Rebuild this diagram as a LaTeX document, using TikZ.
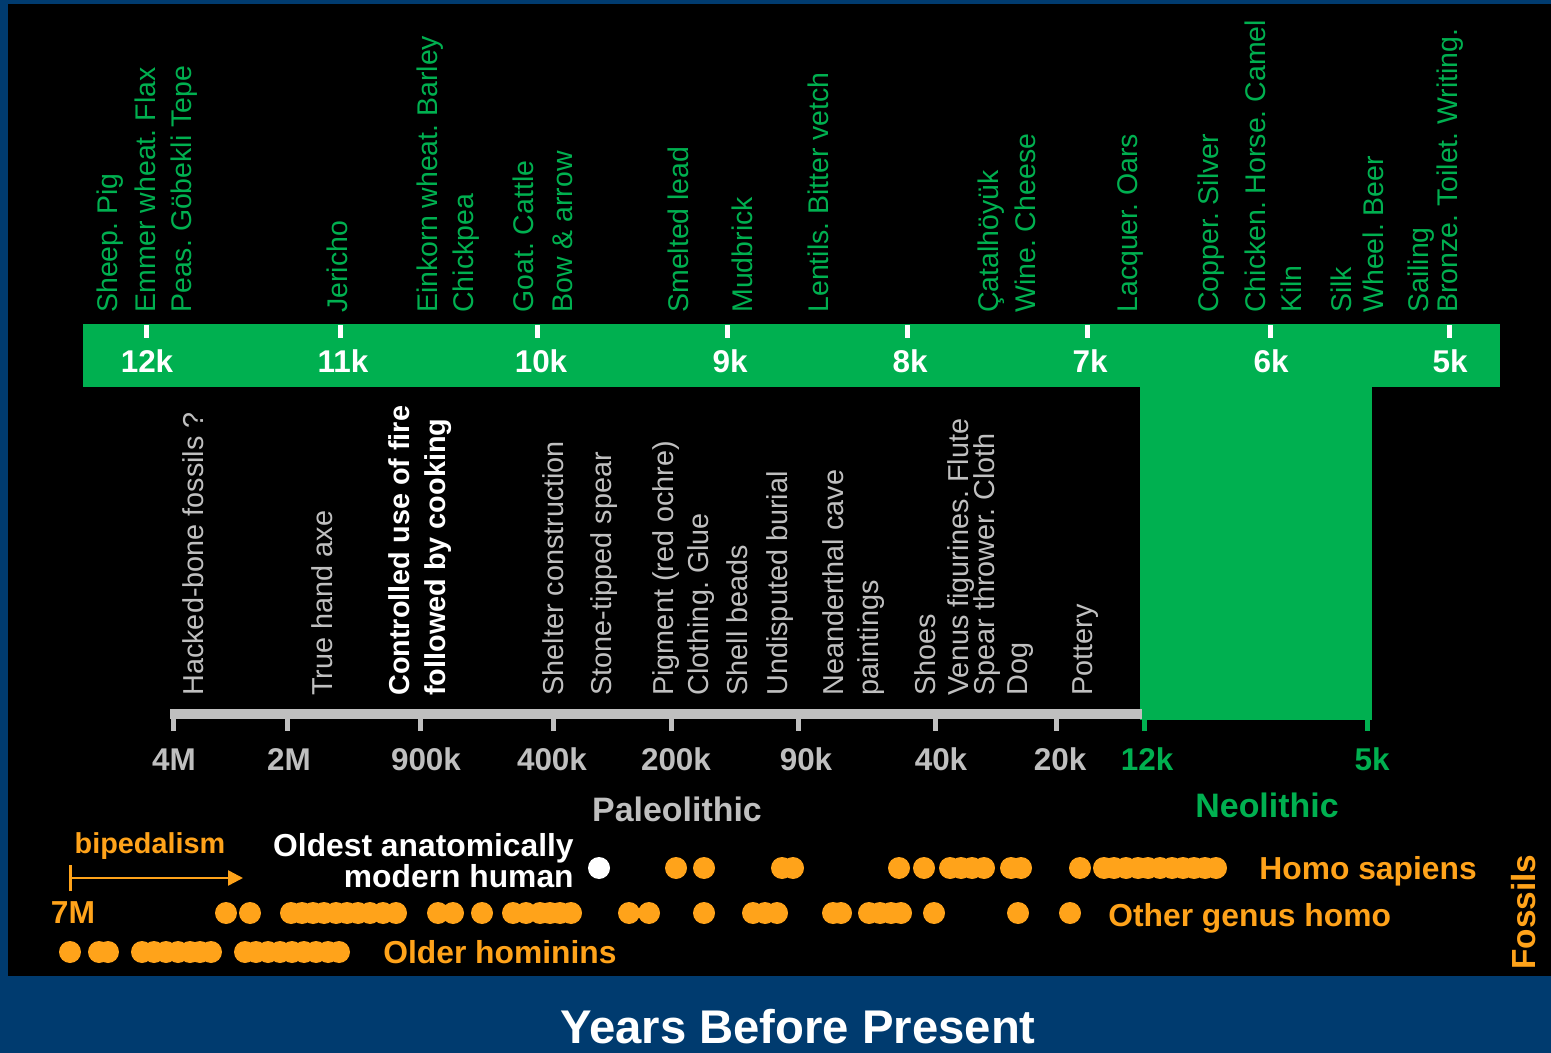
\documentclass[tikz,border=0pt]{standalone}
\usepackage{fontspec}
\setmainfont{Liberation Sans}
\usetikzlibrary{arrows.meta}

\definecolor{slideblue}{RGB}{0,59,111}
\definecolor{neogreen}{RGB}{0,176,80}
\definecolor{paleogray}{RGB}{191,191,191}
\definecolor{fossilorange}{RGB}{255,163,26}

\begin{document}
\begin{tikzpicture}[
                x=0.02cm, y=-0.02cm,
                every node/.style={inner sep=0pt},
                greenitem/.style={rotate=90, anchor=base west, text=neogreen, font=\fontsize{16.2}{20}\selectfont},
                grayitem/.style={rotate=90, anchor=base west, text=paleogray, font=\fontsize{16.4}{20}\selectfont},
                fireitem/.style={rotate=90, anchor=base west, text=white, font=\bfseries\fontsize{16.4}{20}\selectfont},
                bandlabel/.style={anchor=base, text=white, font=\bfseries\fontsize{17.9}{21}\selectfont},
                agelabel/.style={anchor=base, text=paleogray, font=\bfseries\fontsize{17.9}{21}\selectfont},
                eralabel/.style={anchor=base, font=\bfseries\fontsize{19.3}{23}\selectfont},
                fossiltext/.style={text=fossilorange, font=\bfseries\fontsize{18.1}{21}\selectfont},
                fossildot/.style={circle, fill=fossilorange, minimum size=0.44cm}
            ]

            \useasboundingbox (0,0) rectangle (1551,1053);
            \fill[slideblue] (0,0) rectangle (1551,1053);
            \fill[black] (8,4) rectangle (1551,976);

            % Neolithic band and block
            \fill[neogreen] (83,324) rectangle (1500,387);
            \fill[neogreen] (1140,387) rectangle (1372,720);
            \foreach \tx/\lx/\lab [count=\i] in {146/147/12k, 340/343/11k, 537/541/10k, 727/730/9k,
                    907/910/8k, 1087/1090/7k, 1270/1271/6k, 1449/1450/5k} {
                \draw[white, line width=0.1cm] (\tx,325) -- (\tx,338);
                \node[bandlabel] (band\i) at (\lx,373) {\lab};
            }

            % Paleolithic axis
            \fill[paleogray] (170,709) rectangle (1142,719);
            \foreach \tx/\lx/\lab [count=\i] in {173/174/4M, 287/289/2M, 420/426/900k, 553/552/400k,
                    671/676/200k, 798/806/90k, 935/941/40k, 1056/1060/20k} {
                \draw[paleogray, line width=0.1cm] (\tx,718) -- (\tx,731);
                \node[agelabel] (age\i) at (\lx,770) {\lab};
            }
            \draw[neogreen, line width=0.1cm] (1144,718) -- (1144,731);
            \draw[neogreen, line width=0.1cm] (1367,718) -- (1367,731);
            \node[agelabel, text=neogreen] (neostart) at (1147,770) {12k};
            \node[agelabel, text=neogreen] (neoend) at (1372,770) {5k};
            \node[eralabel, text=paleogray] (paleo) at (677,821) {Paleolithic};
            \node[eralabel, text=neogreen] (neo) at (1267,817) {Neolithic};

            % inventions since 12k
            \foreach \bx/\txt [count=\i] in {117/Sheep.~Pig, 155/Emmer wheat.~Flax, 191/Peas.~Göbekli Tepe,
                    347/Jericho, 437/Einkorn wheat.~Barley, 473/Chickpea, 533/Goat.~Cattle,
                    572/Bow \& arrow, 688/Smelted lead, 752/Mudbrick, 828/Lentils.~Bitter vetch,
                    998/Çatalhöyük, 1035/Wine.~Cheese, 1137/Lacquer.~Oars, 1218/Copper.~Silver,
                    1265/Chicken.~Horse.~Camel, 1301/Kiln, 1351/Silk, 1383/Wheel.~Beer,
                    1428/Sailing, 1457/Bronze.~Toilet.~Writing.}
                \node[greenitem] (neoitem\i) at (\bx,313) {\txt};

            % inventions before 12k
            \foreach \bx/\txt [count=\i] in {203/Hacked-bone fossils ?, 332/True hand axe,
                    563/Shelter construction, 611/Stone-tipped spear, 673/Pigment (red ochre),
                    708/Clothing.~Glue, 747/Shell beads, 787/Undisputed burial, 843/Neanderthal cave,
                    878/paintings, 935/Shoes, 968/Venus figurines.~Flute, 994/Spear thrower.~Cloth,
                    1027/Dog, 1092/Pottery}
                \node[grayitem] (paleoitem\i) at (\bx,696) {\txt};
            \node[fireitem] (fire1) at (409,696) {Controlled use of fire};
            \node[fireitem] (fire2) at (445,696) {followed by cooking};

            % fossils
            \node[fossiltext, anchor=base, font=\bfseries\fontsize{16.4}{20}\selectfont] (biped) at (150,853) {bipedalism};
            \coordinate (bipstart) at (69,878);
            \coordinate (bipend) at (243,878);
            \draw[fossilorange, line width=0.05cm, arrows={Bar[width=0.52cm]-Triangle[length=0.3cm, width=0.3cm]}] (bipstart) -- (bipend);
            \node[fossiltext, anchor=base] (sevenM) at (73,923) {7M};
            \node[fossiltext, anchor=base east, text=white] (oldest1) at (574,856) {Oldest anatomically};
            \node[fossiltext, anchor=base east, text=white] (oldest2) at (574,887) {modern human};

            \node[fossildot, fill=white] (amh) at (599,868) {};
            \foreach \dx [count=\i] in {676,704,782,793,899,924,950,961,972,984,1011,1021,1080,
                    1104,1114,1126,1138,1148,1160,1172,1183,1194,1205,1216}
                \node[fossildot] (sapiens\i) at (\dx,868) {};
            \foreach \dx [count=\i] in {226,250,291,302,313,324,336,347,358,370,383,396,438,453,482,
                    513,526,540,550,560,571,629,649,704,753,765,777,833,841,869,880,891,901,934,1018,1070}
                \node[fossildot] (homo\i) at (\dx,913) {};
            \foreach \dx [count=\i] in {70,99,108,142,154,166,178,190,200,211,
                    245,256,268,280,292,304,316,328,339}
                \node[fossildot] (hominin\i) at (\dx,952) {};

            \node[fossiltext, anchor=base west] (sapiens) at (1259,879) {Homo sapiens};
            \node[fossiltext, anchor=base west] (genushomo) at (1108,926) {Other genus homo};
            \node[fossiltext, anchor=base west] (hominins) at (383,963) {Older hominins};
            \node[fossiltext, rotate=90, anchor=base west, font=\bfseries\fontsize{19}{23}\selectfont] (fossils) at (1535,970) {Fossils};

            \node[anchor=base, text=white, font=\bfseries\fontsize{26.9}{32}\selectfont] (title) at (798,1043) {Years Before Present};

        \end{tikzpicture}
\end{document}
